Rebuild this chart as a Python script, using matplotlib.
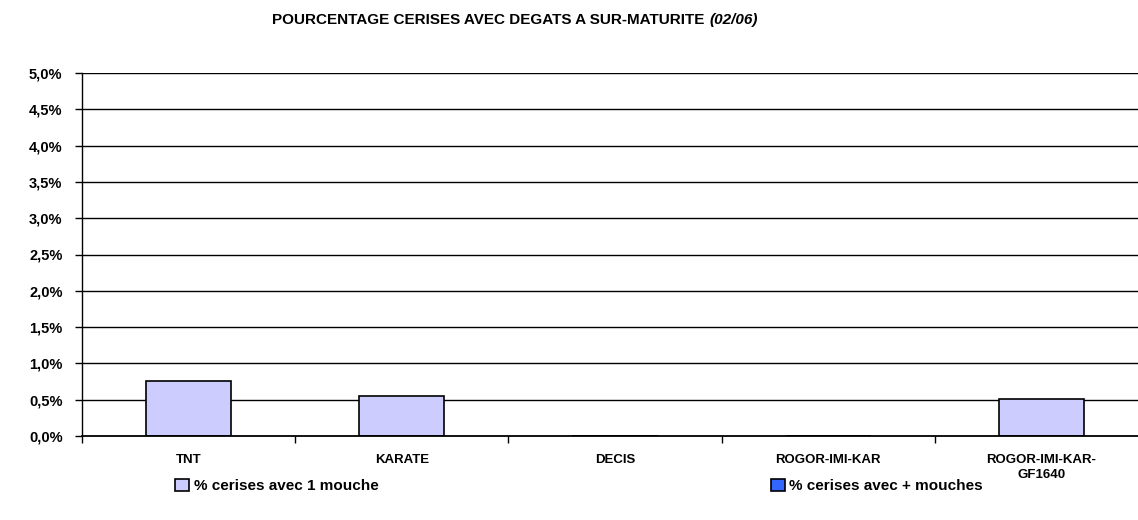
import matplotlib
matplotlib.use("Agg")
import matplotlib.pyplot as plt
import numpy as np

categories = ["TNT", "KARATE", "DECIS", "ROGOR-IMI-KAR", "ROGOR-IMI-KAR-\nGF1640"]
series_names = ["% cerises avec 1 mouche", "% cerises avec + mouches"]
one_fly = [0.76, 0.55, 0.0, 0.0, 0.51]
more_flies = [0.0, 0.0, 0.0, 0.0, 0.0]
y_ticks = [0.0, 0.5, 1.0, 1.5, 2.0, 2.5, 3.0, 3.5, 4.0, 4.5, 5.0]
y_tick_labels = ["0,0%", "0,5%", "1,0%", "1,5%", "2,0%", "2,5%", "3,0%", "3,5%", "4,0%", "4,5%", "5,0%"]
title_main = "POURCENTAGE CERISES AVEC DEGATS A SUR-MATURITE"
title_date = "(02/06)"

plt.rcParams['font.family'] = ['Liberation Sans', 'DejaVu Sans']

W, H = 1138, 520
fig = plt.figure(figsize=(W / 100, H / 100), dpi=100)
ax = fig.add_axes([82 / W, (H - 436) / H, 1066 / W, 363 / H])

x = np.arange(len(categories))
b1 = ax.bar(x, one_fly, width=0.4, color="#CCCCFF", edgecolor="black", linewidth=1.2,
            label=series_names[0], zorder=3)
b2 = ax.bar(x, more_flies, width=0.4, color="#3366FF", edgecolor="black", linewidth=1.2,
            label=series_names[1], zorder=2)

ax.set_xlim(-0.5, len(categories) - 0.5)
ax.set_ylim(0, 5.0)
ax.set_yticks(y_ticks)
ax.set_yticklabels(y_tick_labels, fontsize=10.5, fontweight="bold")
for yv in y_ticks[1:]:
    ax.axhline(yv, color="black", linewidth=1.0, zorder=1)

ax.set_xticks(x)
ax.set_xticklabels(categories, fontsize=9.5, fontweight="bold", linespacing=1.3)
ax.set_xticks(np.arange(len(categories) + 1) - 0.5, minor=True)
ax.tick_params(axis="x", which="major", length=0, pad=13)
ax.tick_params(axis="x", which="minor", length=5, width=1, direction="out")
ax.tick_params(axis="y", length=5, width=1, direction="out", pad=9)

for s in ["top", "right"]:
    ax.spines[s].set_visible(False)
ax.spines["left"].set_linewidth(1.0)
ax.spines["bottom"].set_linewidth(1.3)
ax.spines["bottom"].set_zorder(6)
ax.spines["left"].set_zorder(6)

# title: main part + italic date, centred around x ~ 515 px
fig.canvas.draw()
r = fig.canvas.get_renderer()
t1 = fig.text(0, 1 - 24 / H, title_main + " ", fontsize=11, fontweight="bold",
              ha="left", va="baseline")
t2 = fig.text(0, 1 - 24 / H, title_date, fontsize=11, fontweight="bold", style="italic",
              ha="left", va="baseline")
w1 = t1.get_window_extent(r).width
w2 = t2.get_window_extent(r).width
x0 = 515 - (w1 + w2) / 2
t1.set_x(x0 / W)
t2.set_x((x0 + w1) / W)

leg1 = fig.legend(handles=[b1], labels=[series_names[0]], loc="center",
                  bbox_to_anchor=(277 / W, 1 - 486 / H), frameon=False,
                  prop={"size": 11, "weight": "bold"}, handlelength=0.9, handleheight=0.9,
                  handletextpad=0.3)
leg2 = fig.legend(handles=[b2], labels=[series_names[1]], loc="center",
                  bbox_to_anchor=(877 / W, 1 - 486 / H), frameon=False,
                  prop={"size": 11, "weight": "bold"}, handlelength=0.9, handleheight=0.9,
                  handletextpad=0.3)

fig.savefig("out.png", dpi=100)
